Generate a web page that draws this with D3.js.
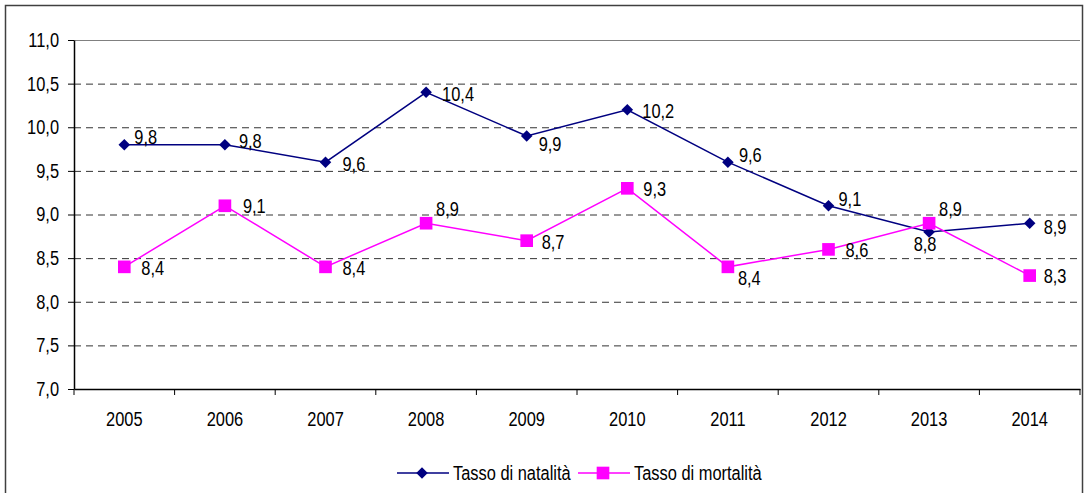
<!DOCTYPE html>
<html>
<head>
<meta charset="utf-8">
<script src="https://cdn.jsdelivr.net/npm/d3@7"></script>
<style>
  body { margin: 0; background: #fff; }
  svg text { font-family: "Liberation Sans", Arial, sans-serif; fill: #000; font-size: 20px; }
</style>
</head>
<body>
<svg id="chart"></svg>
<script>
// data
const years = ["2005", "2006", "2007", "2008", "2009", "2010", "2011", "2012", "2013", "2014"];
const natalita = [9.8, 9.8, 9.6, 10.4, 9.9, 10.2, 9.6, 9.1, 8.8, 8.9];
const mortalita = [8.4, 9.1, 8.4, 8.9, 8.7, 9.3, 8.4, 8.6, 8.9, 8.3];
const yTicks = [7.0, 7.5, 8.0, 8.5, 9.0, 9.5, 10.0, 10.5, 11.0];

// label offsets (dx, dy) relative to the point
const natOffsets = [[10, -8], [14, -4], [17, 2], [16, 2], [12, 8], [15, 1], [11, -7], [10, -7], [-4, 12], [14, 4]];
const morOffsets = [[17, 1], [18, 0], [17, 1], [10, -14], [15, 1], [16, 1], [10, 11], [17, 1], [10, -14], [14, 0]];

const W = 1087, H = 493;
const margin = { top: 40, right: 7, bottom: 104, left: 74 };
const width = W - margin.left - margin.right;
const height = H - margin.top - margin.bottom;
const fmt = v => d3.format(".1f")(v).replace(".", ",");

// squeeze text horizontally to mimic a narrow face
function narrow(sel) {
  sel.each(function () {
    const len = this.getComputedTextLength();
    d3.select(this).attr("textLength", len * 0.82).attr("lengthAdjust", "spacingAndGlyphs");
  });
}

const svg = d3.select("#chart").attr("width", W).attr("height", H);

// outer frame
svg.append("rect")
  .attr("x", 5.5).attr("y", 5.5)
  .attr("width", 1077).attr("height", 500)
  .attr("fill", "none").attr("stroke", "#404040").attr("stroke-width", 1.5);

const g = svg.append("g").attr("transform", `translate(${margin.left},${margin.top})`);

const x = d3.scaleBand().domain(years).range([0, width]);
const y = d3.scaleLinear().domain([7, 11]).range([height, 0]);

// gridlines
g.selectAll(".grid")
  .data(yTicks.filter(t => t > 7))
  .enter().append("line")
  .attr("x1", 0).attr("x2", width)
  .attr("y1", d => y(d) + 0.5).attr("y2", d => y(d) + 0.5)
  .attr("stroke", d => d === 11 ? "#808080" : "#333")
  .attr("stroke-dasharray", d => d === 11 ? null : "7,5");

// y axis
const yAxis = g.append("g")
  .call(d3.axisLeft(y).tickValues(yTicks).tickFormat(fmt).tickSize(6).tickSizeOuter(0));
yAxis.select(".domain").attr("stroke", "#000").attr("stroke-width", 1.5);
yAxis.selectAll("text").attr("x", -15).call(narrow);

// x axis
const xAxis = g.append("g")
  .attr("transform", `translate(0,${height})`)
  .call(d3.axisBottom(x).tickSize(0).tickSizeOuter(0));
xAxis.select(".domain").attr("stroke", "#000").attr("stroke-width", 1.5);
xAxis.selectAll("text").attr("y", 23).call(narrow);
g.selectAll(".xtick")
  .data(years.concat(["end"]))
  .enter().append("line")
  .attr("x1", (d, i) => i * x.bandwidth()).attr("x2", (d, i) => i * x.bandwidth())
  .attr("y1", height).attr("y2", height + 6)
  .attr("stroke", "#000");

const cx = d => x(d) + x.bandwidth() / 2;
const line = d3.line().x(d => cx(d.year)).y(d => y(d.v));

const series = [
  { name: "Tasso di natalità", vals: natalita, color: "#000080", shape: d3.symbolDiamond2, size: 85, offs: natOffsets },
  { name: "Tasso di mortalità", vals: mortalita, color: "#FF00FF", shape: d3.symbolSquare, size: 160, offs: morOffsets }
];

series.forEach(s => {
  const pts = years.map((yr, i) => ({ year: yr, v: s.vals[i] }));
  g.append("path").datum(pts)
    .attr("fill", "none").attr("stroke", s.color).attr("stroke-width", 1.5)
    .attr("d", line);
  g.selectAll(null).data(pts).enter().append("path")
    .attr("transform", d => `translate(${cx(d.year)},${y(d.v)})`)
    .attr("d", d3.symbol().type(s.shape).size(s.size))
    .attr("fill", s.color);
});

series.forEach(s => {
  g.selectAll(null).data(years).enter().append("text")
    .attr("x", (d, i) => cx(d) + s.offs[i][0])
    .attr("y", (d, i) => y(s.vals[i]) + s.offs[i][1])
    .attr("dy", "0.35em")
    .attr("text-anchor", (d, i) => s.offs[i][0] < 0 ? "middle" : "start")
    .text((d, i) => fmt(s.vals[i]))
    .call(narrow);
});

// legend
const legend = svg.append("g").attr("transform", "translate(397,473)");
const legendX = [0, 181];
series.forEach((s, i) => {
  const lg = legend.append("g").attr("transform", `translate(${legendX[i]},0)`);
  lg.append("line").attr("x1", 0).attr("x2", 52).attr("y1", 0).attr("y2", 0)
    .attr("stroke", s.color).attr("stroke-width", 1.5);
  lg.append("path").attr("transform", "translate(25,0)")
    .attr("d", d3.symbol().type(s.shape).size(s.size)).attr("fill", s.color);
  lg.append("text").attr("x", 56).attr("y", 0).attr("dy", "0.35em")
    .text(s.name).call(narrow);
});
</script>
</body>
</html>
